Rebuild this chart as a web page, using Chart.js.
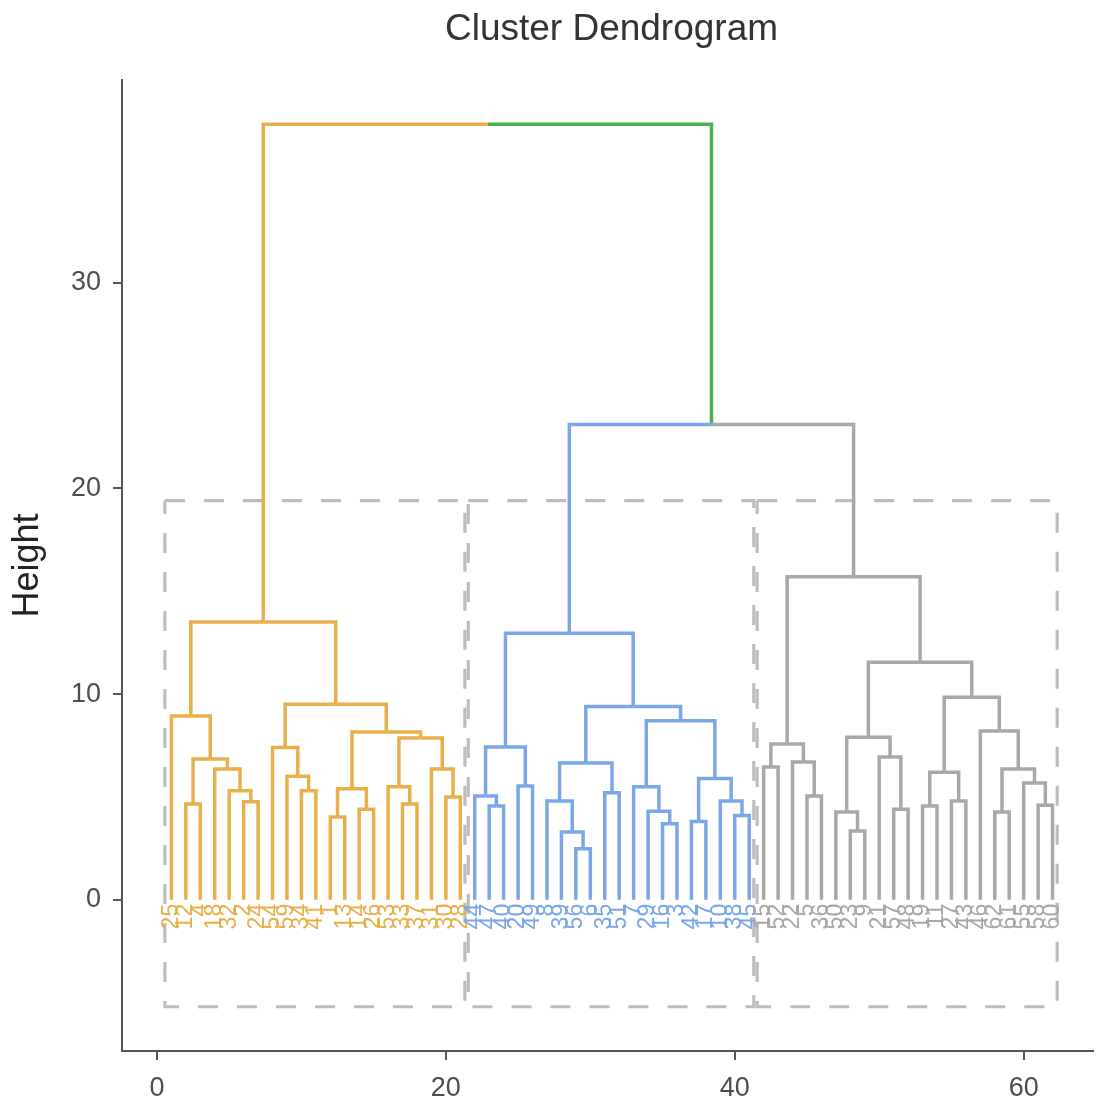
<!DOCTYPE html>
<html>
<head>
<meta charset="utf-8">
<script src="https://cdn.jsdelivr.net/npm/chart.js@4.4.1/dist/chart.umd.min.js"></script>
<style>
html,body{margin:0;padding:0;background:#ffffff;}
#wrap{width:1096px;height:1106px;}
</style>
</head>
<body>
<div id="wrap"><canvas id="c" width="1096" height="1106"></canvas></div>
<script>
// ---------------- data ----------------
const chartTitle = 'Cluster Dendrogram';
const yAxisTitle = 'Height';
const xTicks = [0, 20, 40, 60];
const yTicks = [0, 10, 20, 30];

// leaf labels in dendrogram order (positions 1..62)
const leafLabels = [
  25, 12, 4, 18, 32, 2, 24, 54, 59, 34, 41, 1, 13, 14, 26, 53, 33, 37, 31, 30, 28,
  44, 47, 40, 20, 49, 8, 39, 56, 6, 35, 51, 7, 29, 16, 3, 42, 17, 10, 38, 45,
  15, 52, 22, 5, 36, 50, 23, 9, 21, 57, 48, 19, 11, 27, 43, 46, 62, 61, 55, 58, 60
];

// number of leaves in each cluster (left to right)
const clusterSizes = [21, 20, 21];

// hclust-style merges: negative = leaf position, positive = earlier merge (1-based)
const mergeLeft = [
  -2, -6, -5, -4, 1, -1, -10, -9, -8, -12, -14, 10, -17, -16, -20, -19, 14, 12, 9, 6,
  -23, -22, -25, 22, -29, -28, -27, -31, 27, -35, -34, -33, -37, -40, -39, 33, 32, 29, 24,
  -42, -45, -44, 40, -48, -47, -51, -50, 45, -53, -55, 49, -58, -61, -60, 52, -57, 51, 48, 43, 39, 20
];
const mergeRight = [
  -3, -7, 2, 3, 4, 5, -11, 7, 8, -13, -15, 11, -18, 13, -21, 15, 16, 17, 18, 19,
  -24, 21, -26, 23, -30, 25, 26, -32, 28, -36, 30, 31, -38, -41, 34, 35, 36, 37, 38,
  -43, -46, 41, 42, -49, 44, -52, 46, 47, -54, -56, 50, -59, -62, 53, 54, 55, 56, 57, 58, 59, 60
];
const mergeHeight = [
  4.66, 4.76, 5.3, 6.36, 6.84, 8.93, 5.3, 6.0, 7.4, 4.03, 4.4, 5.4, 4.66, 5.5, 5.0, 6.36, 7.86, 8.16, 9.5, 13.5,
  4.56, 5.05, 5.53, 7.43, 2.48, 3.3, 4.8, 5.2, 6.65, 3.7, 4.3, 5.5, 3.8, 4.1, 4.8, 5.9, 8.7, 9.4, 12.96,
  6.46, 5.05, 6.7, 7.57, 3.35, 4.27, 4.4, 6.94, 7.9, 4.56, 4.8, 6.2, 4.27, 4.6, 5.68, 6.36, 8.2, 9.85, 11.55, 15.7, 23.1, 37.7
];

// cluster rectangle vertical extent (height units)
const rectTop = 19.4;
const rectBottom = -5.2;

// ---------------- styles ----------------
const clusterColors = ['#E8B04B', '#7BA7E8', '#A8A8A8'];
const upperColor = '#4CAF50';
const rectColor = '#BDBDBD';
const axisColor = '#555555';
const textColor = '#4D4D4D';
const FONT = '"Liberation Sans", Arial, Helvetica, sans-serif';
const rectPadLeft = 0.45, rectPadRight = 0.32;

// ---------------- build tree geometry from data ----------------
function clusterOfLeaf(pos) {
  let acc = 0;
  for (let c = 0; c < clusterSizes.length; c++) {
    acc += clusterSizes[c];
    if (pos <= acc) return c;
  }
  return clusterSizes.length - 1;
}
const nodes = [];
function nodeInfo(ref) {
  if (ref < 0) { const p = -ref; return {x: p, h: 0, cl: clusterOfLeaf(p)}; }
  return nodes[ref - 1];
}
const datasets = [];
function colorOf(cl) { return cl >= 0 ? clusterColors[cl] : upperColor; }
function seg(points, color) {
  datasets.push({
    type: 'scatter', data: points, showLine: true, borderColor: color, backgroundColor: color,
    borderWidth: 3.5, pointRadius: 0, pointHoverRadius: 0, borderCapStyle: 'butt',
    borderJoinStyle: 'miter', tension: 0, order: 1
  });
}
for (let i = 0; i < mergeHeight.length; i++) {
  const L = nodeInfo(mergeLeft[i]);
  const R = nodeInfo(mergeRight[i]);
  const h = mergeHeight[i];
  const xm = (L.x + R.x) / 2;
  const cl = (L.cl === R.cl) ? L.cl : -1;
  nodes.push({x: xm, h: h, cl: cl});
  seg([{x: L.x, y: L.h}, {x: L.x, y: h}, {x: xm, y: h}], colorOf(L.cl));
  seg([{x: xm, y: h}, {x: R.x, y: h}, {x: R.x, y: R.h}], colorOf(R.cl));
}
// cluster rectangles
let start = 1;
clusterSizes.forEach((n) => {
  const x0 = start - rectPadLeft, x1 = start + n - 1 + rectPadRight;
  datasets.push({
    type: 'scatter',
    data: [{x: x0, y: rectTop}, {x: x1, y: rectTop}, {x: x1, y: rectBottom}, {x: x0, y: rectBottom}, {x: x0, y: rectTop}],
    showLine: true, borderColor: rectColor, borderWidth: 3.2, borderDash: [20, 19],
    pointRadius: 0, pointHoverRadius: 0, borderCapStyle: 'butt', tension: 0, order: 2
  });
  start += n;
});

// ---------------- plugins ----------------
const leafLabelPlugin = {
  id: 'leafLabels',
  afterDatasetsDraw(chart) {
    const {ctx} = chart;
    const xs = chart.scales.x, ys = chart.scales.y;
    ctx.save();
    ctx.font = '23px ' + FONT;
    ctx.textAlign = 'right';
    ctx.textBaseline = 'middle';
    leafLabels.forEach((lab, i) => {
      const px = xs.getPixelForValue(i + 1);
      const py = ys.getPixelForValue(0) + 4;
      ctx.save();
      ctx.translate(px, py);
      ctx.rotate(-Math.PI / 2);
      ctx.fillStyle = clusterColors[clusterOfLeaf(i + 1)];
      ctx.fillText(String(lab), 0, 0);
      ctx.restore();
    });
    ctx.restore();
  }
};
const titlePlugin = {
  id: 'panelTitle',
  afterDraw(chart) {
    const {ctx, chartArea} = chart;
    ctx.save();
    ctx.font = '37px ' + FONT;
    ctx.fillStyle = '#333333';
    ctx.textAlign = 'center';
    ctx.textBaseline = 'middle';
    ctx.fillText(chartTitle, (chartArea.left + chartArea.right) / 2 + 4, 30);
    ctx.restore();
  }
};

// ---------------- chart ----------------
const axisCommon = {
  type: 'linear',
  grid: {display: true, drawOnChartArea: false, drawTicks: true, tickLength: 9, tickColor: axisColor, tickWidth: 2, lineWidth: 2, color: axisColor},
  border: {display: true, color: axisColor, width: 2},
  ticks: {color: textColor, font: {family: FONT, size: 27}, padding: 12}
};
new Chart(document.getElementById('c'), {
  type: 'scatter',
  data: {datasets: datasets},
  options: {
    responsive: false,
    maintainAspectRatio: false,
    animation: false,
    devicePixelRatio: 1,
    layout: {padding: {left: 0, right: 3, top: 80, bottom: 0}},
    plugins: {legend: {display: false}, tooltip: {enabled: false}, title: {display: false}},
    events: [],
    scales: {
      x: Object.assign({}, axisCommon, {
        position: 'bottom', min: -2.42, max: 64.8,
        afterBuildTicks: (s) => { s.ticks = xTicks.map(v => ({value: v})); },
        afterFit: (s) => { s.height = 55; },
        ticks: Object.assign({}, axisCommon.ticks, {callback: (v) => String(v)})
      }),
      y: Object.assign({}, axisCommon, {
        position: 'left', min: -7.35, max: 39.85,
        afterBuildTicks: (s) => { s.ticks = yTicks.map(v => ({value: v})); },
        afterFit: (s) => { s.width = 122; },
        title: {display: true, text: yAxisTitle, color: '#222222', font: {family: FONT, size: 36}, padding: {top: 6, bottom: 0}},
        ticks: Object.assign({}, axisCommon.ticks, {callback: (v) => String(v)})
      })
    }
  },
  plugins: [leafLabelPlugin, titlePlugin]
});
</script>
</body>
</html>
